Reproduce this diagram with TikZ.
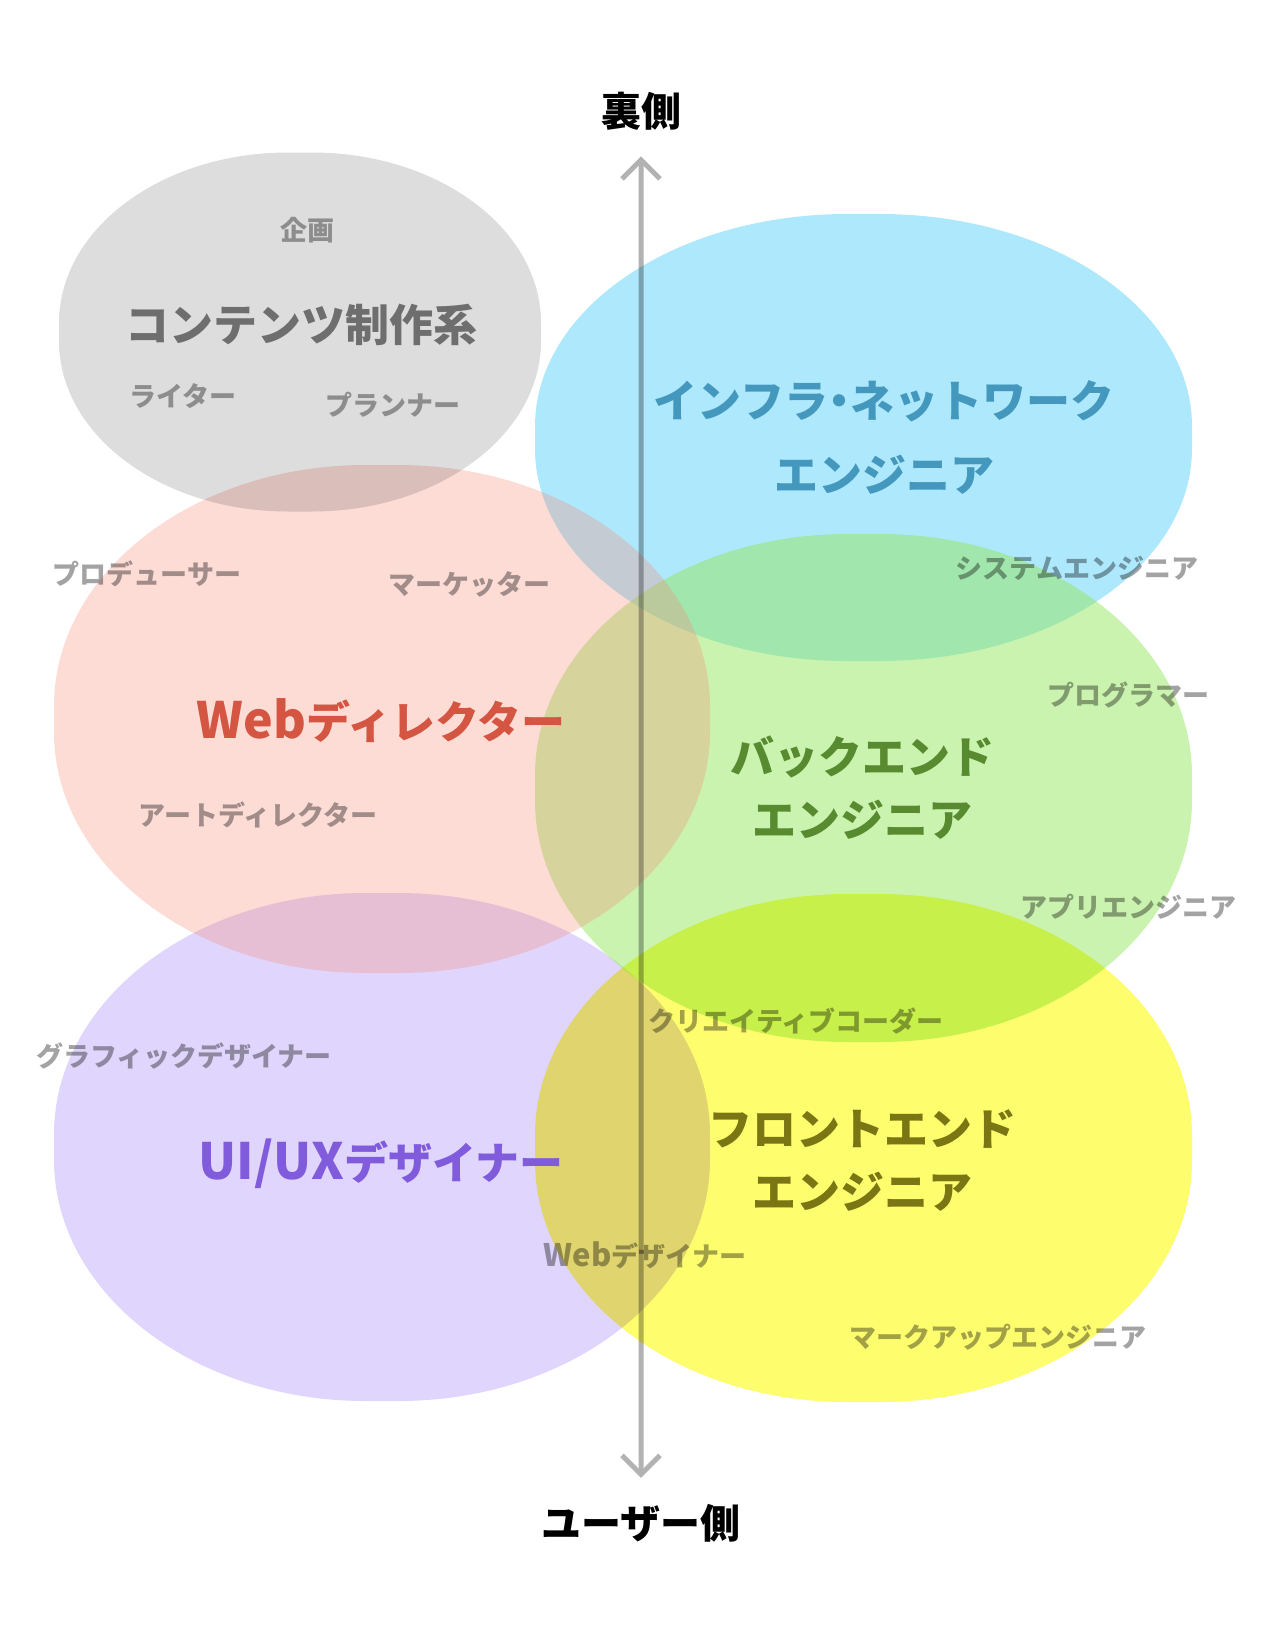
\documentclass[tikz,border=0pt]{standalone}
\usepackage{fontspec}
\setmainfont{Noto Sans CJK JP}
\usepackage{tikz}
\usetikzlibrary{arrows.meta}
\usepackage{xcolor}
\definecolor{shapegray}{RGB}{221,221,221}
\definecolor{shapeblue}{RGB}{174,232,252}
\definecolor{shapegreen}{RGB}{149,231,95}
\definecolor{shapered}{RGB}{248,138,118}
\definecolor{shapepurple}{RGB}{224,214,253}
\definecolor{shapeyellow}{RGB}{254,253,110}
\definecolor{txtgray}{RGB}{110,110,110}
\definecolor{txtblue}{RGB}{68,152,189}
\definecolor{txtred}{RGB}{212,85,65}
\definecolor{txtgreen}{RGB}{88,138,48}
\definecolor{txtpurple}{RGB}{128,92,220}
\definecolor{txtolive}{RGB}{122,118,20}
\newcommand{\bigltn}[1]{{\fontsize{50}{63}\selectfont #1}}
\newcommand{\smallltn}[1]{{\fontsize{31}{32}\selectfont #1}}
\tikzset{
  blobgray/.style={fill=shapegray, blend mode=multiply},
  blobblue/.style={fill=shapeblue},
  blobgreen/.style={fill=shapegreen, fill opacity=0.5},
  blobred/.style={fill=shapered, fill opacity=0.3},
  blobpurple/.style={fill=shapepurple},
  blobyellow/.style={fill=shapeyellow, blend mode=multiply},
  rolemain/.style={font=\bfseries\fontsize{44}{63}\selectfont, align=center, inner sep=0pt},
  rolesub/.style={font=\bfseries\fontsize{27}{32}\selectfont, text=black, text opacity=0.36, inner sep=0pt},
  sidelabel/.style={font=\bfseries\fontsize{40}{48}\selectfont, inner sep=0pt},
  axis/.style={{Straight Barb[length=19pt,width=38pt]}-{Straight Barb[length=19pt,width=38pt]},
               line width=5pt, draw=black, shorten <=26pt, shorten >=26pt},
}

\begin{document}
\begin{tikzpicture}[x=1pt, y=-1pt]
\useasboundingbox (0,0) rectangle (1280,1626);
% role areas
\foreach \sty/\cx/\cy/\bw/\bh in {blobpurple/382/1147/656/508, blobblue/863.5/437.5/657/447,
    blobgreen/863.5/788/657/508, blobred/382/719/656/508,
    blobgray/300/332/482/359, blobyellow/863.5/1148/657/508}{
  \pgfmathsetmacro{\brx}{0.475*\bw}
  \pgfmathsetmacro{\bry}{0.475*\bh}
  \pgfmathsetmacro{\bfx}{\bw/2-\brx}
  \pgfmathsetmacro{\bfy}{\bh/2-\bry}
  \path[\sty] (\cx-\bfx,\cy-\bh/2) -- (\cx+\bfx,\cy-\bh/2)
    arc[start angle=270, end angle=360, x radius=\brx, y radius=\bry] -- (\cx+\bw/2,\cy+\bfy)
    arc[start angle=0, end angle=90, x radius=\brx, y radius=\bry] -- (\cx-\bfx,\cy+\bh/2)
    arc[start angle=90, end angle=180, x radius=\brx, y radius=\bry] -- (\cx-\bw/2,\cy-\bfy)
    arc[start angle=180, end angle=270, x radius=\brx, y radius=\bry] -- cycle;
}

% axis
\node[sidelabel] (back) at (641,111) {裏側};
\node[sidelabel] (front) at (641,1523) {ユーザー側};
\begin{scope}[transparency group, opacity=0.3]
  \draw[axis] (back) -- (front);
\end{scope}

% main roles
\node[rolemain, text=txtgray] (contents) at (301,325) {コンテンツ制作系};
\node[rolemain, text=txtblue, font=\bfseries\fontsize{44}{74}\selectfont] (infra) at (884,437) {インフラ\kern-11pt・\kern-11pt ネットワーク\\エンジニア};
\node[rolemain, text=txtred] (director) at (381,721) {\bigltn{Web}ディレクター};
\node[rolemain, text=txtgreen] (backend) at (862,788) {バックエンド\\エンジニア};
\node[rolemain, text=txtpurple] (uiux) at (381,1164) {\bigltn{UI/UX}デザイナー};
\node[rolemain, text=txtolive] (frontend) at (862,1161) {フロントエンド\\エンジニア};

% sub roles
\node[rolesub] (plan) at (307,230) {企画};
\node[rolesub] (writer) at (183,396) {ライター};
\node[rolesub] (planner) at (393,405) {プランナー};
\node[rolesub] (producer) at (147,574) {プロデューサー};
\node[rolesub] (marketer) at (469,584) {マーケッター};
\node[rolesub] (syseng) at (1077,568) {システムエンジニア};
\node[rolesub] (programmer) at (1128,695) {プログラマー};
\node[rolesub] (artdir) at (258,815) {アートディレクター};
\node[rolesub] (appeng) at (1128,907) {アプリエンジニア};
\node[rolesub] (coder) at (796,1021) {クリエイティブコーダー};
\node[rolesub] (graphic) at (184,1056) {グラフィックデザイナー};
\node[rolesub] (webdesign) at (645,1255) {\smallltn{Web}デザイナー};
\node[rolesub] (markup) at (998,1337) {マークアップエンジニア};
\end{tikzpicture}
\end{document}
